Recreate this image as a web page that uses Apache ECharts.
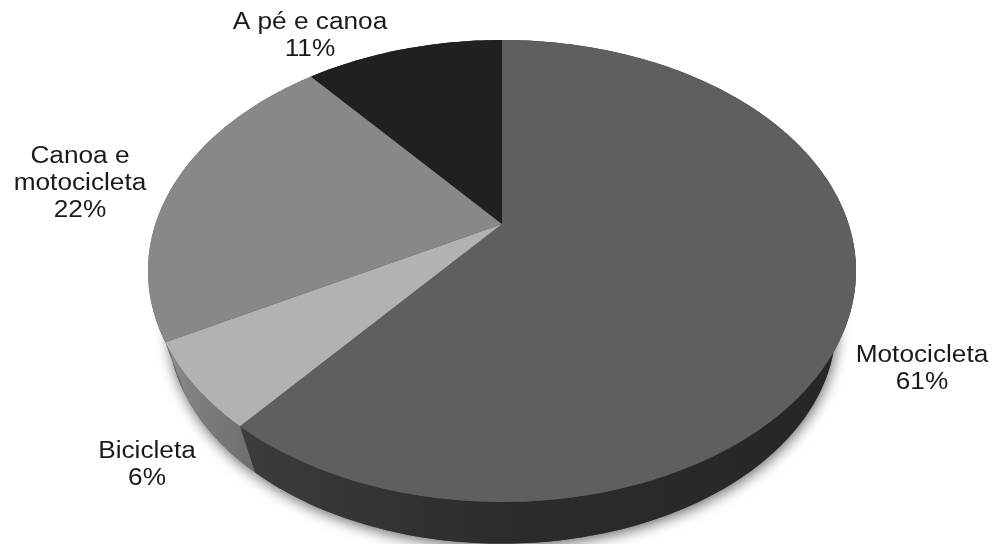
<!DOCTYPE html>
<html>
<head>
<meta charset="utf-8">
<style>html,body{margin:0;padding:0;background:#fff}#c{width:996px;height:544px}</style>
<script src="https://cdn.jsdelivr.net/npm/echarts@6/dist/echarts.min.js"></script>
</head>
<body>
<div id="c"></div>
<script>
const categories = ['Motocicleta', 'Bicicleta', 'Canoa e\nmotocicleta', 'A pé e canoa'];
const values = [61, 6, 22, 11];

const topColors = ['#5f5f5f', '#b2b2b2', '#888888', '#202020'];
const wallColors = [
  ['#3c3c3c', '#2c2c2c', '#262626'],
  ['#8c8c8c', '#7c7c7c', '#6e6e6e'],
  ['#6e6e6e', '#6e6e6e', '#6e6e6e'],
  ['#1a1a1a', '#1a1a1a', '#1a1a1a']
];
const labelAnchors = [[922, 369], [147, 465], [80, 184], [310, 36]];

// Perspective view of the pie disc
const view = { cx: 502, cy: 224, a: 346.6, b: 221.4, k: 0.2035, shrink: 0.943, drop: 281.5 };
const total = values.reduce((s, v) => s + v, 0);
const starts = values.map((_, i) => values.slice(0, i).reduce((s, v) => s + v, 0));

function topPoint(frac) {
  const t = frac * Math.PI * 2;
  const u = Math.sin(t), v = -Math.cos(t), w = 1 - view.k * v;
  return [view.cx + view.a * u / w, view.cy + view.b * v / w];
}
function bottomPoint(frac) {
  const p = topPoint(frac);
  return [view.cx + (p[0] - view.cx) * view.shrink, view.drop + (p[1] - view.cy) * view.shrink];
}
function arc(from, to, fn) {
  const n = Math.max(8, Math.ceil((to - from) * 360));
  const pts = [];
  for (let i = 0; i <= n; i++) pts.push(fn(from + (to - from) * i / n));
  return pts;
}

const chart = echarts.init(document.getElementById('c'), null, { renderer: 'canvas' });
const rows = values.map((v, i) => [starts[i], v]);

chart.setOption({
  animation: false,
  backgroundColor: '#ffffff',
  series: [
    {
      type: 'custom', coordinateSystem: 'none', z: 0, silent: true,
      data: rows,
      renderItem(params, api) {
        const from = api.value(0) / total, to = from + api.value(1) / total;
        return {
          type: 'polygon',
          shape: { points: [[view.cx, view.drop]].concat(arc(from, to, bottomPoint)) },
          style: {
            fill: '#444444',
            shadowColor: 'rgba(0,0,0,0.6)',
            shadowBlur: 14,
            shadowOffsetX: 1,
            shadowOffsetY: 3
          }
        };
      }
    },
    {
      type: 'custom', coordinateSystem: 'none', z: 1, silent: true,
      data: rows,
      renderItem(params, api) {
        const i = params.dataIndex;
        const from = api.value(0) / total, to = from + api.value(1) / total;
        const pts = arc(from, to, topPoint).concat(arc(from, to, bottomPoint).reverse());
        return {
          type: 'polygon',
          shape: { points: pts },
          style: {
            fill: new echarts.graphic.LinearGradient(0, 0, 1, 0, [
              { offset: 0, color: wallColors[i][0] },
              { offset: 0.42, color: wallColors[i][1] },
              { offset: 1, color: wallColors[i][2] }
            ])
          }
        };
      }
    },
    {
      type: 'custom', coordinateSystem: 'none', z: 2, silent: true,
      data: rows,
      renderItem(params, api) {
        const i = params.dataIndex;
        const from = api.value(0) / total, to = from + api.value(1) / total;
        const pts = [[view.cx, view.cy]].concat(arc(from, to, topPoint));
        return {
          type: 'group',
          children: [
            {
              type: 'polygon',
              shape: { points: pts },
              style: { fill: topColors[i] }
            },
            {
              type: 'text',
              x: labelAnchors[i][0],
              y: labelAnchors[i][1],
              scaleX: 1.14,
              style: {
                text: categories[i] + '\n' + api.value(1) + '%',
                font: '23px "Liberation Sans", Arial, sans-serif',
                fill: '#1a1a1a',
                align: 'center',
                verticalAlign: 'middle',
                lineHeight: 27
              }
            }
          ]
        };
      }
    }
  ]
});
</script>
</body>
</html>
